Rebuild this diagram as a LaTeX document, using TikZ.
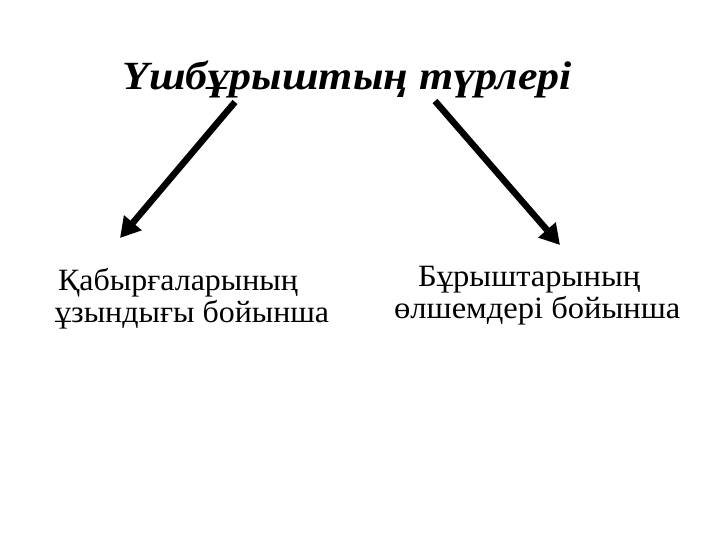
\documentclass[tikz,border=0pt]{standalone}
\usepackage{fontspec}
\setmainfont{Liberation Serif}
\usetikzlibrary{arrows.meta}
\begin{document}
\begin{tikzpicture}[x=1pt,y=-1pt,
  title/.style={font=\fontsize{40}{48}\selectfont\bfseries\itshape, anchor=base, inner sep=0pt},
  lbl/.style={font=\fontsize{31}{36}\selectfont, anchor=base west, inner sep=0pt},
  arr/.style={line width=6.5pt, -{Triangle[length=20pt,width=22pt]}}]
\useasboundingbox (0,0) rectangle (720,540);
\node[title] (t) at (347,90) {\scalebox{1.1}[1]{Үшбұрыштың түрлері}};
\coordinate (ls) at (235,102);
\coordinate (rs) at (435,101);
\coordinate (le) at (120,238);
\coordinate (re) at (560,245);
\draw[arr] (ls) -- (le);
\draw[arr] (rs) -- (re);
\node[lbl] (l1) at (58,290) {\scalebox{1.03}[1]{Қабырғаларының}};
\node[lbl] (l2) at (55,322) {\scalebox{1.03}[1]{ұзындығы бойынша}};
\node[lbl] (r1) at (418,286) {\scalebox{1.05}[1]{Бұрыштарының}};
\node[lbl] (r2) at (394,318) {\scalebox{1.05}[1]{өлшемдері бойынша}};
\end{tikzpicture}
\end{document}
